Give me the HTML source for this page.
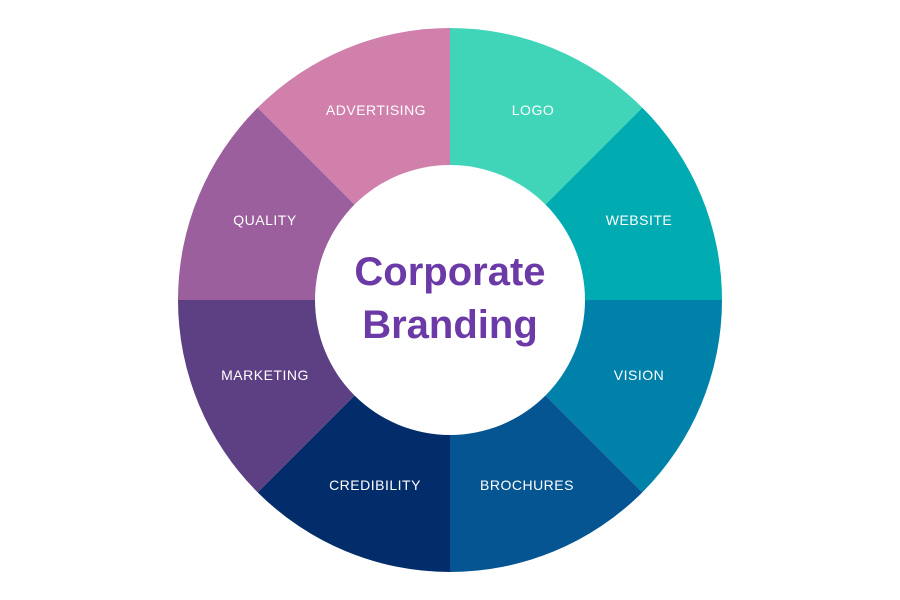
<!DOCTYPE html>
<html><head><meta charset="utf-8"><style>
html,body{margin:0;padding:0;background:#fff;}
svg{display:block;}
text{font-family:"Liberation Sans",sans-serif;}
</style></head><body>
<svg width="900" height="600" viewBox="0 0 900 600" xmlns="http://www.w3.org/2000/svg">
<rect width="900" height="600" fill="#fff"/>
<g transform="translate(450,300)">
<!-- r=272; diag = 192.33 -->
<path d="M0,0 L0,-272 A272,272 0 0 1 192.33,-192.33 Z" fill="#40d5b9"/>
<path d="M0,0 L192.33,-192.33 A272,272 0 0 1 272,0 Z" fill="#00abb2"/>
<path d="M0,0 L272,0 A272,272 0 0 1 192.33,192.33 Z" fill="#0081aa"/>
<path d="M0,0 L192.33,192.33 A272,272 0 0 1 0,272 Z" fill="#045592"/>
<path d="M0,0 L0,272 A272,272 0 0 1 -192.33,192.33 Z" fill="#022c6a"/>
<path d="M0,0 L-192.33,192.33 A272,272 0 0 1 -272,0 Z" fill="#5d3f83"/>
<path d="M0,0 L-272,0 A272,272 0 0 1 -192.33,-192.33 Z" fill="#9a5f9c"/>
<path d="M0,0 L-192.33,-192.33 A272,272 0 0 1 0,-272 Z" fill="#d17fab"/>
<circle r="135" fill="#fff"/>
</g>
<g fill="#fff" font-size="14" text-anchor="middle" letter-spacing="0.5">
<text x="376" y="115">ADVERTISING</text>
<text x="533" y="115">LOGO</text>
<text x="639" y="225">WEBSITE</text>
<text x="639" y="380">VISION</text>
<text x="527" y="490">BROCHURES</text>
<text x="375" y="490">CREDIBILITY</text>
<text x="265" y="380">MARKETING</text>
<text x="265" y="225">QUALITY</text>
</g>
<g fill="#6b3aa6" font-size="40" font-weight="bold" text-anchor="middle">
<text x="450" y="285">Corporate</text>
<text x="450" y="338">Branding</text>
</g>
</svg>
</body></html>
